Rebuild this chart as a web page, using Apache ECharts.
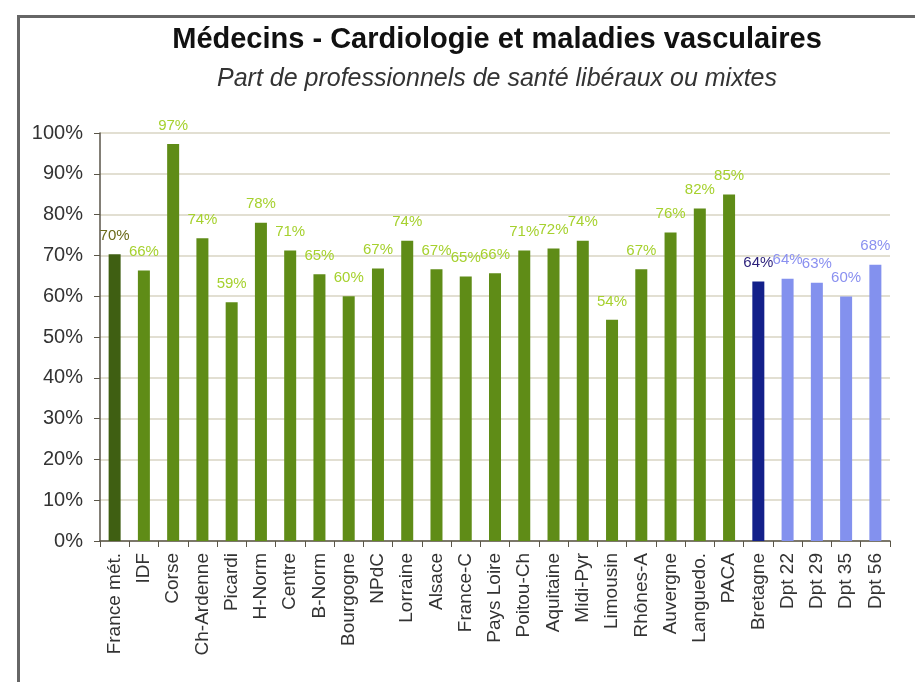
<!DOCTYPE html>
<html><head><meta charset="utf-8">
<script src="https://cdn.jsdelivr.net/npm/echarts@6/dist/echarts.min.js"></script>
<style>html,body{margin:0;padding:0;background:#fff}#c{width:915px;height:682px}</style>
</head><body><div id="c"></div>
<script>
const categories = ["France mét.","IDF","Corse","Ch-Ardenne","Picardi","H-Norm","Centre","B-Norm","Bourgogne","NPdC","Lorraine","Alsace","France-C","Pays Loire","Poitou-Ch","Aquitaine","Midi-Pyr","Limousin","Rhônes-A","Auvergne","Languedo.","PACA","Bretagne","Dpt 22","Dpt 29","Dpt 35","Dpt 56"];
const values = [70.3,66.3,97.3,74.2,58.5,78.0,71.2,65.4,60.0,66.8,73.6,66.6,64.8,65.6,71.2,71.7,73.6,54.2,66.6,75.6,81.5,84.9,63.6,64.3,63.3,59.9,67.7];
const groups = ["fr","reg","reg","reg","reg","reg","reg","reg","reg","reg","reg","reg","reg","reg","reg","reg","reg","reg","reg","reg","reg","reg","bzh","dpt","dpt","dpt","dpt"];
const yTicks = [0,10,20,30,40,50,60,70,80,90,100];

const barColors = {fr:"#3f5f12", reg:"#5f8c17", bzh:"#13208a", dpt:"#8391ee"};
const labelColors = {fr:"#6b6a1a", reg:"#a6d12e", bzh:"#2a1f7a", dpt:"#8a90f0"};

const chart = echarts.init(document.getElementById('c'), null, {renderer:'canvas'});
chart.setOption({
  animation:false,
  backgroundColor:'#fff',
  graphic:[{type:'polyline', shape:{points:[[18.5,700],[18.5,16.5],[930,16.5]]}, style:{stroke:'#666',lineWidth:3,fill:null}}],
  title:{text:'Médecins - Cardiologie et maladies vasculaires', subtext:'Part de professionnels de santé libéraux ou mixtes', left:492, textAlign:'center', top:20,
    textStyle:{fontFamily:'Liberation Sans',fontWeight:'bold',fontSize:29,color:'#111'},
    subtextStyle:{fontFamily:'Liberation Sans',fontStyle:'italic',fontSize:25,color:'#333'}, itemGap:13},
  grid:{left:100,right:25,top:133,bottom:141,containLabel:false},
  xAxis:{type:'category',data:categories,
    axisLine:{lineStyle:{color:'#5a5548',width:1.5}},
    axisTick:{show:true,length:6,lineStyle:{color:'#5a5548'}},
    axisLabel:{rotate:90,interval:0,fontFamily:'Liberation Sans',fontSize:19,color:'#333',margin:12}},
  yAxis:{type:'value',min:yTicks[0],max:yTicks[yTicks.length-1],interval:10,
    axisLine:{show:true,lineStyle:{color:'#5a5548',width:1.5}},
    axisTick:{show:true,length:6,lineStyle:{color:'#5a5548'}},
    splitLine:{lineStyle:{color:'#d9d5c3',width:1.5}},
    axisLabel:{formatter:'{value}%',fontFamily:'Liberation Sans',fontSize:20,color:'#333',margin:17}},
  series:[{type:'bar',barWidth:12,
    data:values.map((v,i)=>({value:v,itemStyle:{color:barColors[groups[i]]},
      label:{color:labelColors[groups[i]]}})),
    label:{show:true,position:'top',distance:11,fontFamily:'Liberation Sans',fontSize:15,
      formatter:p=>Math.round(p.value)+'%'}}]
});
</script></body></html>
